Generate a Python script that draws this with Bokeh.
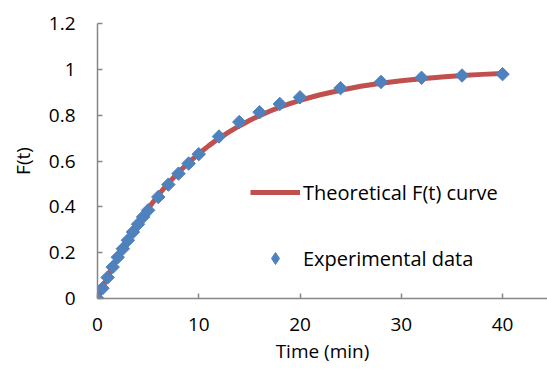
import math
from bokeh.plotting import figure
from bokeh.models import Range1d, FixedTicker, Legend, LegendItem
from bokeh.embed import file_html
from bokeh.resources import INLINE

# Theoretical curve
theory_t = [0, 1, 2, 3, 4, 5, 6, 7, 8, 9, 10, 11, 12, 13, 14, 15, 16, 17, 18, 19, 20,
            22, 24, 26, 28, 30, 32, 34, 36, 38, 40]
theory_f = [0.0, 0.095, 0.181, 0.259, 0.330, 0.393, 0.451, 0.503, 0.551, 0.593, 0.632,
            0.667, 0.699, 0.727, 0.753, 0.777, 0.798, 0.817, 0.835, 0.850, 0.865,
            0.889, 0.909, 0.926, 0.939, 0.950, 0.959, 0.967, 0.973, 0.978, 0.982]

# Experimental data
exp_t = [0, 0.5, 1, 1.5, 2, 2.5, 3, 3.5, 4, 4.5, 5, 6, 7, 8, 9, 10, 12, 14, 16, 18, 20,
         24, 28, 32, 36, 40]
exp_f = [0.0, 0.045, 0.092, 0.137, 0.180, 0.217, 0.254, 0.290, 0.324, 0.356, 0.385,
         0.443, 0.497, 0.545, 0.589, 0.630, 0.707, 0.770, 0.813, 0.849, 0.878,
         0.918, 0.945, 0.963, 0.973, 0.979]

x_ticks = [0, 10, 20, 30, 40]
y_ticks = [0, 0.2, 0.4, 0.6, 0.8, 1.0, 1.2]
y_tick_labels = ["0", "0.2", "0.4", "0.6", "0.8", "1", "1.2"]

FONT = "Open Sans"
FS = "19px"
AXIS_COLOR = "#868686"
BLUE = "#4F81BD"

p = figure(width=547, height=372, output_backend="svg", toolbar_location=None,
           x_range=Range1d(0, 44.44), y_range=Range1d(0, 1.2),
           min_border_left=97, min_border_right=0, min_border_top=23, min_border_bottom=74)
p.outline_line_color = None
p.xgrid.visible = False
p.ygrid.visible = False
p.background_fill_color = "white"
p.border_fill_color = "white"

for ax in (p.xaxis[0], p.yaxis[0]):
    ax.axis_line_color = AXIS_COLOR
    ax.axis_line_width = 1.5
    ax.major_tick_line_color = AXIS_COLOR
    ax.major_tick_line_width = 1.5
    ax.major_tick_in = 5
    ax.major_tick_out = 0
    ax.minor_tick_line_color = None
    ax.major_label_text_font = FONT
    ax.major_label_text_font_size = FS
    ax.major_label_text_color = "#000000"
    ax.axis_label_text_font = FONT
    ax.axis_label_text_font_size = FS
    ax.axis_label_text_font_style = "normal"
    ax.axis_label_text_color = "#000000"

p.xaxis.ticker = FixedTicker(ticks=x_ticks)
p.yaxis.ticker = FixedTicker(ticks=y_ticks)
p.yaxis.major_label_overrides = {v: s for v, s in zip(y_ticks, y_tick_labels)}
p.xaxis.axis_label = "Time (min)"
p.yaxis.axis_label = "F(t)"
p.xaxis.major_label_standoff = 19
p.yaxis.major_label_standoff = 22
p.xaxis.axis_label_standoff = 4
p.yaxis.axis_label_standoff = 10

line_r = p.line(theory_t, theory_f, line_color="#C0504D", line_width=5)
pts_r = p.scatter(exp_t, exp_f, marker="square", angle=math.pi / 4, size=9.5,
                  fill_color=BLUE, line_color=BLUE)
# legend-only renderer (NaN data, not drawn in the plot) to show a diamond symbol
leg_pts = p.scatter(x=[float("nan")], y=[float("nan")], marker="diamond", size=16,
                    fill_color=BLUE, line_color=BLUE)

legend = Legend(items=[LegendItem(label="Theoretical F(t) curve", renderers=[line_r]),
                       LegendItem(label="Experimental data", renderers=[leg_pts])],
                location=(153, 25), orientation="vertical",
                glyph_width=50, glyph_height=30, label_height=30,
                label_standoff=3, spacing=36, padding=0, margin=0,
                border_line_color=None, background_fill_alpha=0,
                label_text_font=FONT, label_text_font_size="20px",
                label_text_color="#000000")
p.add_layout(legend)

open("out.html", "w").write(file_html(p, INLINE))
